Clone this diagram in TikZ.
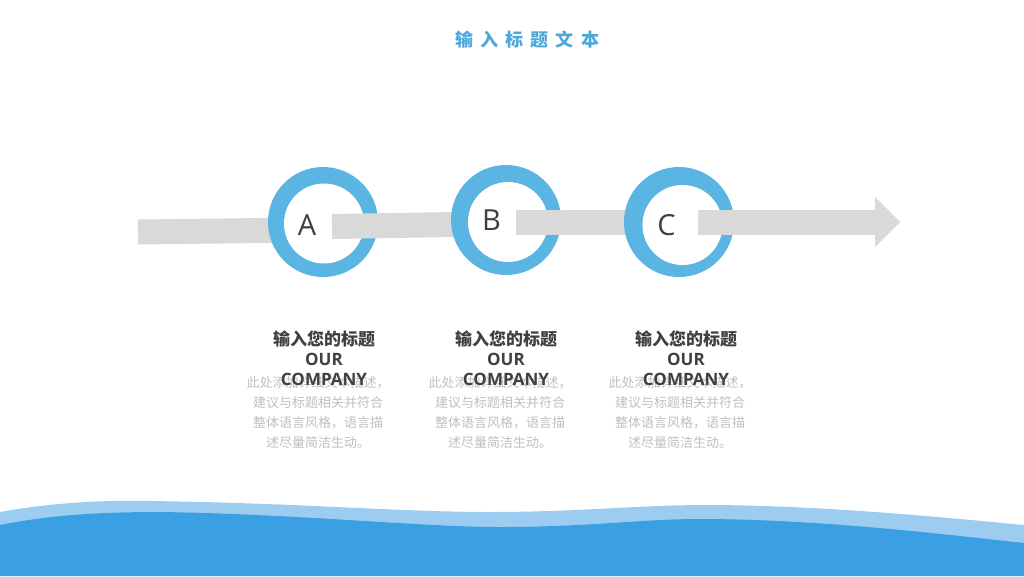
\documentclass[tikz,border=0pt]{standalone}
\usepackage{fontspec}
\setmainfont{Open Sans}
\newfontfamily\cjk{Noto Sans CJK SC}
\usetikzlibrary{calc}
\definecolor{ringblue}{HTML}{5AB5E2}
\definecolor{titleblue}{HTML}{4DA8DA}
\definecolor{bargray}{HTML}{D9D9D9}
\definecolor{darktext}{HTML}{404040}
\definecolor{softtext}{HTML}{BFBFBF}
\definecolor{wavelight}{HTML}{9CCDF0}
\definecolor{wavedark}{HTML}{3BA0E3}
\newcommand{\blocktitle}{{\cjk\bfseries 输入您的标题}\\OUR\\COMPANY}
\newcommand{\blockbody}{此处添加详细文本描述，\\建议与标题相关并符合\\整体语言风格，语言描\\述尽量简洁生动。}

\tikzset{
    ring/.style={circle, fill=ringblue, minimum size=110pt, inner sep=0pt},
    hole/.style={circle, fill=white, minimum size=80pt, inner sep=0pt},
    letter/.style={text=darktext, inner sep=0pt, font=\fontsize{29}{32}\selectfont},
    bar/.style={draw=bargray, line width=25pt},
    heading/.style={align=center, text=darktext, inner sep=0pt, font=\fontsize{17}{20}\selectfont\bfseries},
    body/.style={align=center, text=softtext, inner sep=0pt, font=\cjk\fontsize{13}{20}\selectfont},
}

\begin{document}
\begin{tikzpicture}[x=1pt, y=-1pt]
    \useasboundingbox (0,0) rectangle (1024,576);
    \node[text=titleblue, font=\cjk\bfseries\fontsize{18}{20}\selectfont\addfontfeature{LetterSpace=40}] (title) at (527,40) {输入标题文本};

    % centres of the rings, start and tip of the arrow
    \coordinate (ca) at (323,222);
    \coordinate (cb) at (506,220);
    \coordinate (cc) at (679,222);
    \coordinate (start) at (138,232);
    \coordinate (tip) at (900,222);

    \draw[bar] (start) -- ($(ca)+(-20,8)$);
    \node[ring] (a) at (ca) {};
    \node[hole] (ah) at ($(ca)+(1,1.5)$) {};
    \node[letter] (la) at ($(ca)+(-16,3.5)$) {A};

    \draw[bar] ($(ca)+(9,4.5)$) -- ($(cb)+(-20,4)$);
    \node[ring] (b) at (cb) {};
    \node[hole] (bh) at ($(cb)+(2,2)$) {};
    \node[letter] (lb) at ($(cb)+(-14.5,0.5)$) {B};

    \draw[bar] ($(cb)+(10,2)$) -- ($(cc)+(-20,0)$);
    \node[ring] (c) at (cc) {};
    \node[hole] (ch) at ($(cc)+(3.5,3)$) {};
    \node[letter] (lc) at ($(cc)+(-12.5,3)$) {C};

    \draw[bar] ($(cc)+(19,0)$) -- ($(tip)+(-25,0)$);
    \fill[bargray] ($(tip)+(-25,-25)$) -- (tip) -- ($(tip)+(-25,25)$) -- cycle;

    % text under the rings
    \node[body] (da) at (318,413) {\blockbody};
    \node[heading] (ta) at (324,358) {\blocktitle};
    \node[body] (db) at (500,413) {\blockbody};
    \node[heading] (tb) at (506,358) {\blocktitle};
    \node[body] (dc) at (680,413) {\blockbody};
    \node[heading] (tc) at (686,358) {\blocktitle};

    % waves
    \fill[wavelight] (0,576) -- (0,512) .. controls (50,503) and (100,500) .. (150,501)
        .. controls (300,503) and (400,512) .. (490,512)
        .. controls (580,512) and (640,505) .. (705,505)
        .. controls (820,505) and (950,518) .. (1024,525) -- (1024,576) -- cycle;
    \fill[wavedark] (0,576) -- (0,525) .. controls (50,515) and (100,512) .. (160,512)
        .. controls (300,514) and (420,527) .. (500,527)
        .. controls (590,527) and (640,519) .. (700,519)
        .. controls (820,519) and (950,535) .. (1024,543) -- (1024,576) -- cycle;
\end{tikzpicture}
\end{document}
